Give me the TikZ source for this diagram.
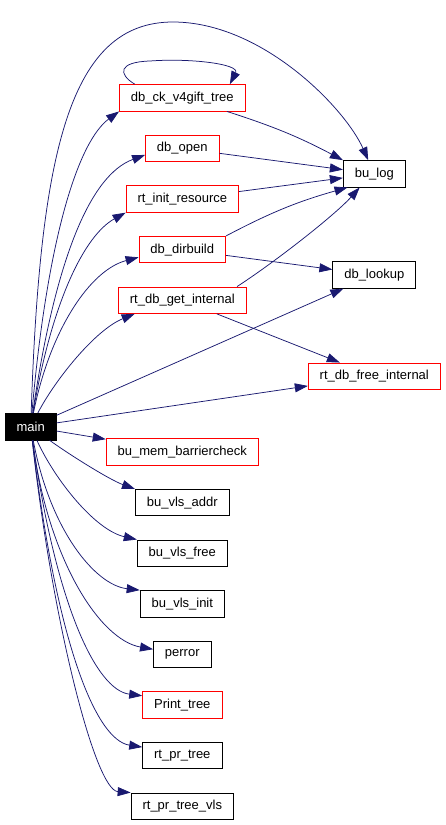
\documentclass[tikz,border=0pt]{standalone}
\usepackage{fontspec}
\setmainfont{Liberation Sans}
\usetikzlibrary{positioning,arrows.meta}
\definecolor{edgeblue}{HTML}{191970}

\begin{document}
\begin{tikzpicture}[x=1pt,y=1pt,node distance=50.6pt,on grid,
    >={Triangle[length=13pt,width=9pt]},
    fn/.style={draw=black,line width=0.8pt,minimum height=26.5pt,inner xsep=11.5pt,
      font=\fontsize{13}{15}\selectfont},
    fnred/.style={fn,draw=red},
    root/.style={fn,fill=black,text=white},
    call/.style={->,color=edgeblue,line width=0.75pt}]
    \useasboundingbox (0,0) rectangle (445,-825);
    \node[root]  (main) at (30.7,-426.7) {main};
    % callees, one column
    \node[fnred] (ck_tree) at (182.3,-97.8) {db\_ck\_v4gift\_tree};
    \node[fnred] (db_open) [below=of ck_tree] {db\_open};
    \node[fnred] (init_res) [below=of db_open] {rt\_init\_resource};
    \node[fnred] (dirbuild) [below=of init_res] {db\_dirbuild};
    \node[fnred] (get_int) [below=of dirbuild] {rt\_db\_get\_internal};
    \node[fnred] (barrier) [below=151.8pt of get_int] {bu\_mem\_barriercheck};
    \node[fn]    (vls_addr) [below=of barrier] {bu\_vls\_addr};
    \node[fn]    (vls_free) [below=of vls_addr] {bu\_vls\_free};
    \node[fn]    (vls_init) [below=of vls_free] {bu\_vls\_init};
    \node[fn]    (perror) [below=of vls_init] {perror};
    \node[fnred] (print_tree) [below=of perror] {Print\_tree};
    \node[fn]    (pr_tree) [below=of print_tree] {rt\_pr\_tree};
    \node[fn]    (pr_vls) [below=of pr_tree] {rt\_pr\_tree\_vls};
    % second level
    \node[fn]    (bu_log) at (374.3,-173.8) {bu\_log};
    \node[fn]    (lookup) [below=101.2pt of bu_log] {db\_lookup};
    \node[fnred] (free_int) [below=101.2pt of lookup] {rt\_db\_free\_internal};
    \coordinate (logarc) at (173,-22);
    \coordinate (loop_top) at (150,-61);
    \path[call]
    (main) edge (lookup)
    (main) edge (free_int)
    (main) edge (barrier)
    (db_open) edge (bu_log)
    (init_res) edge (bu_log)
    (dirbuild) edge (lookup)
    (get_int) edge (free_int)
    (ck_tree.-17) edge [bend left=5] (bu_log.north west)
    (dirbuild.north east) edge [bend left=6] (bu_log.207)
    ; %end path
    \draw[call] (main) .. controls (40,-150) and (70,-22) .. (logarc)
      .. controls (262,-22) and (345,-108) .. (bu_log);
    \draw[call] (main) .. controls (48,-230) and (80,-140) .. (ck_tree.south west);
    \draw[call] (main) .. controls (55,-260) and (90,-175) .. (db_open.190);
    \draw[call] (main) .. controls (52,-300) and (85,-235) .. (init_res.south west);
    \draw[call] (main) .. controls (50,-330) and (90,-270) .. (dirbuild.190);
    \draw[call] (main) .. controls (55,-380) and (95,-330) .. (get_int.196);
    \draw[call] (main) .. controls (70,-455) and (110,-480) .. (vls_addr.north west);
    \draw[call] (main) .. controls (55,-480) and (95,-530) .. (vls_free.north west);
    \draw[call] (main) .. controls (50,-530) and (95,-585) .. (vls_init.north west);
    \draw[call] (main) .. controls (48,-560) and (100,-640) .. (perror.170);
    \draw[call] (main) .. controls (55,-600) and (95,-690) .. (print_tree.167);
    \draw[call] (main) .. controls (56,-640) and (95,-740) .. (pr_tree.168);
    \draw[call] (main) .. controls (52,-620) and (95,-790) .. (pr_vls.north west);
    \draw[call] (get_int.14) .. controls (275,-262) and (335,-215) .. (bu_log.223);
    \draw[call] (ck_tree.164) .. controls (118,-74) and (118,-62) .. (loop_top)
      .. controls (190,-58) and (240,-64) .. (ck_tree.16);
  \end{tikzpicture}
\end{document}
